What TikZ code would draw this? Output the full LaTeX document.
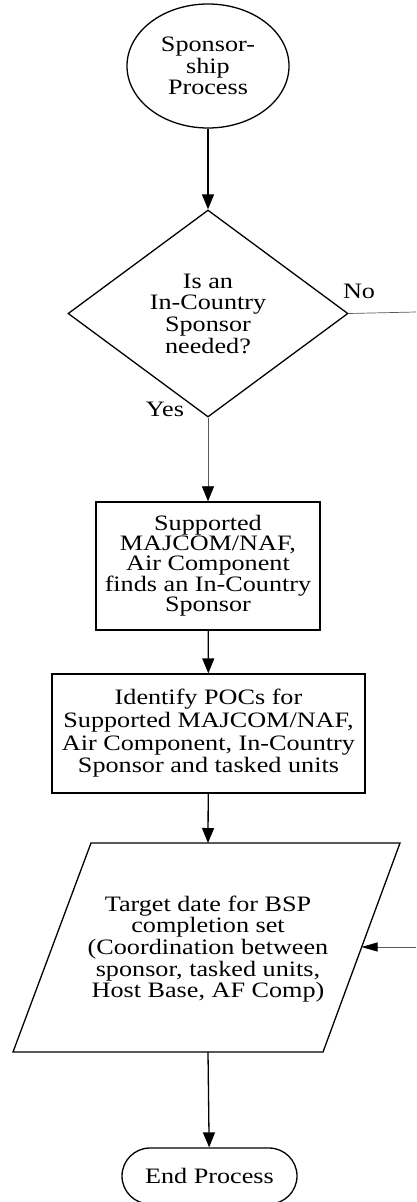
\documentclass[tikz,border=0pt]{standalone}
\usepackage{fontspec}
\setmainfont{Liberation Serif}[FakeStretch=1.19]
\usetikzlibrary{shapes.geometric,shapes.misc,arrows.meta}
\begin{document}
\begin{tikzpicture}[x=1pt,y=-1pt,
  every node/.style={font=\fontsize{22}{21.7}\selectfont, align=center},
  shp/.style={draw, line width=1.3pt, inner sep=0pt},
  flow/.style={line width=1.3pt},
  thinflow/.style={line width=0.7pt, draw=black!65},
  arr/.style={-{Triangle[length=15pt,width=12pt,color=black]}},
  sidearr/.style={-{Triangle[length=16pt,width=9pt,color=black]}},
]
\useasboundingbox (0,0) rectangle (416,1202);

\node[shp, ellipse, minimum width=162pt, minimum height=124pt] (start) at (208,66) {Sponsor-\\ship\\Process};

\node[shp, diamond, minimum width=280pt, minimum height=207pt] (dec) at (208,313.5) {Is an\\In-Country\\Sponsor\\needed?};

\node (no) at (359,291) {No};
\node (yes) at (165,409) {Yes};

\node[shp, rectangle, minimum width=224pt, minimum height=128pt, font=\fontsize{22}{20}\selectfont] (b1) at (208,566) {Supported\\MAJCOM/NAF,\\Air Component\\finds an In-Country\\Sponsor};

\node[shp, rectangle, minimum width=313pt, minimum height=119pt, font=\fontsize{22}{22.7}\selectfont] (b2) at (208.5,733.5) {Identify POCs for\\Supported MAJCOM/NAF,\\Air Component, In-Country\\Sponsor and tasked units};

\coordinate (ptl) at (91,843);
\coordinate (ptr) at (400,843);
\coordinate (pbr) at (323,1052);
\coordinate (pbl) at (13,1052);
\draw[line width=1.3pt] (ptl) -- (ptr) -- (pbr) -- (pbl) -- cycle;
\node (para) at (208,949) {Target date for BSP\\completion set\\(Coordination between\\sponsor, tasked units,\\Host Base, AF Comp)};
\coordinate (ptop) at (208,843);
\coordinate (pbot) at (208,1052);
\coordinate (pin) at (361.5,947);
\coordinate (inbeg) at (416,947);
\coordinate (noend) at (416,312);

\node[shp, rounded rectangle, minimum width=175pt, minimum height=56pt] (end) at (209.5,1176) {End Process};

\draw[flow, arr] (start) -- (dec);
\draw[thinflow] (dec.east) -- (noend);
\draw[thinflow, arr] (dec) -- (b1);
\draw[flow, arr] (b1) -- (b2);
\draw[flow, arr] (b2) -- (ptop);
\draw[thinflow, sidearr] (inbeg) -- (pin);
\draw[flow, arr] (pbot) -- (end);
\end{tikzpicture}
\end{document}
